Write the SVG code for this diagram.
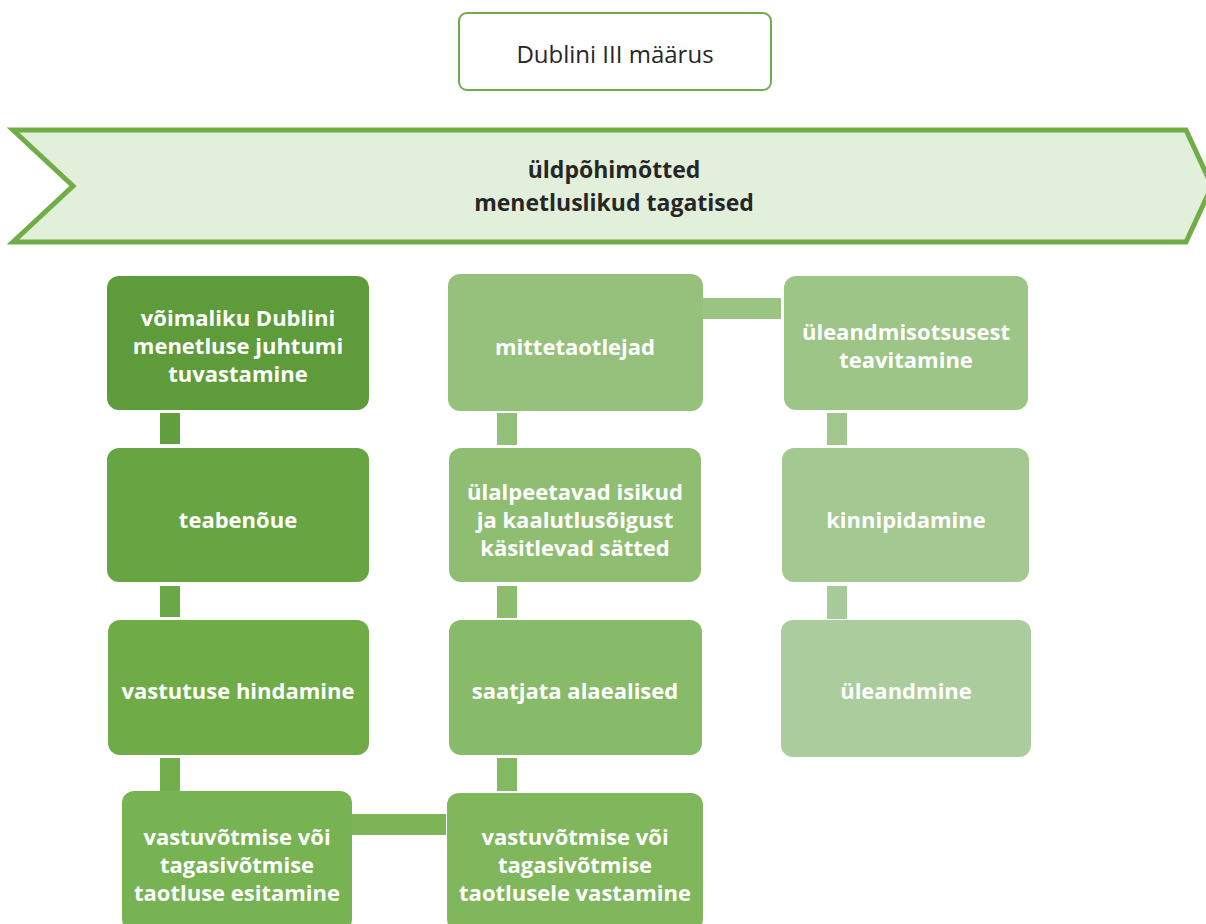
<svg xmlns="http://www.w3.org/2000/svg" width="1206" height="924" viewBox="0 0 1206 924">
<style>
.t{font-family:"Open Sans","Liberation Sans",sans-serif;font-weight:bold;font-size:22px;fill:#ffffff;text-anchor:middle}
.h{font-family:"Open Sans","Liberation Sans",sans-serif;font-weight:bold;font-size:23px;fill:#262626;text-anchor:middle}
</style>
<rect width="1206" height="924" fill="#ffffff"/>
<g id="title">
<rect x="459" y="13" width="312" height="77" rx="8" fill="#ffffff" stroke="#70ad47" stroke-width="2"/>
<text x="615" y="63" style="font-family:'Open Sans','Liberation Sans',sans-serif;font-size:24px;fill:#262626;text-anchor:middle">Dublini III määrus</text>
</g>
<g id="banner">
<polygon points="13,130 1186,130 1212,186 1186,242 13,242 73,186" fill="#e2efda" stroke="#70ad47" stroke-width="5"/>
<text class="h" x="614" y="178">üldpõhimõtted</text>
<text class="h" x="614" y="211">menetluslikud tagatised</text>
</g>
<g id="connectors">
<rect x="160" y="413" width="20" height="31" fill="#62a03f"/>
<rect x="160" y="586" width="20" height="31" fill="#6aa746"/>
<rect x="160" y="758" width="20" height="33" fill="#72ae4b"/>
<rect x="352" y="814" width="94" height="21" fill="#7cb456"/>
<rect x="497" y="758" width="20" height="33" fill="#84b963"/>
<rect x="497" y="586" width="20" height="32" fill="#8cbd6e"/>
<rect x="497" y="413" width="20" height="32" fill="#93c078"/>
<rect x="703" y="298" width="78" height="21" fill="#9ac482"/>
<rect x="827" y="413" width="20" height="32" fill="#a1c78e"/>
<rect x="827" y="586" width="20" height="33" fill="#a8ca98"/>
</g>
<g id="n1"><rect x="107" y="276" width="262" height="134" rx="12" fill="#5e9c3b"/>
<text class="t" x="238" y="326">võimaliku Dublini</text><text class="t" x="238" y="354">menetluse juhtumi</text><text class="t" x="238" y="382">tuvastamine</text></g>
<g id="n2"><rect x="107" y="448" width="262" height="134" rx="12" fill="#67a543"/>
<text class="t" x="238" y="528">teabenõue</text></g>
<g id="n3"><rect x="108" y="620" width="261" height="135" rx="12" fill="#6fac48"/>
<text class="t" x="238" y="699">vastutuse hindamine</text></g>
<g id="n4"><rect x="122" y="791" width="230" height="140" rx="12" fill="#78b353"/>
<text class="t" x="237" y="845">vastuvõtmise või</text><text class="t" x="237" y="873">tagasivõtmise</text><text class="t" x="237" y="901">taotluse esitamine</text></g>
<g id="n5"><rect x="447" y="793" width="256" height="138" rx="12" fill="#80b75c"/>
<text class="t" x="575" y="845">vastuvõtmise või</text><text class="t" x="575" y="873">tagasivõtmise</text><text class="t" x="575" y="901">taotlusele vastamine</text></g>
<g id="n6"><rect x="449" y="620" width="253" height="135" rx="12" fill="#88bb69"/>
<text class="t" x="575" y="699">saatjata alaealised</text></g>
<g id="n7"><rect x="449" y="448" width="252" height="134" rx="12" fill="#8fbe72"/>
<text class="t" x="575" y="500">ülalpeetavad isikud</text><text class="t" x="575" y="528">ja kaalutlusõigust</text><text class="t" x="575" y="556">käsitlevad sätted</text></g>
<g id="n8"><rect x="448" y="274" width="255" height="137" rx="12" fill="#96c17d"/>
<text class="t" x="575" y="355">mittetaotlejad</text></g>
<g id="n9"><rect x="784" y="276" width="244" height="134" rx="12" fill="#9cc587"/>
<text class="t" x="906" y="340">üleandmisotsusest</text><text class="t" x="906" y="368">teavitamine</text></g>
<g id="n10"><rect x="782" y="448" width="247" height="134" rx="12" fill="#a4c892"/>
<text class="t" x="906" y="528">kinnipidamine</text></g>
<g id="n11"><rect x="781" y="620" width="250" height="137" rx="12" fill="#abcc9c"/>
<text class="t" x="906" y="699">üleandmine</text></g>
</svg>
